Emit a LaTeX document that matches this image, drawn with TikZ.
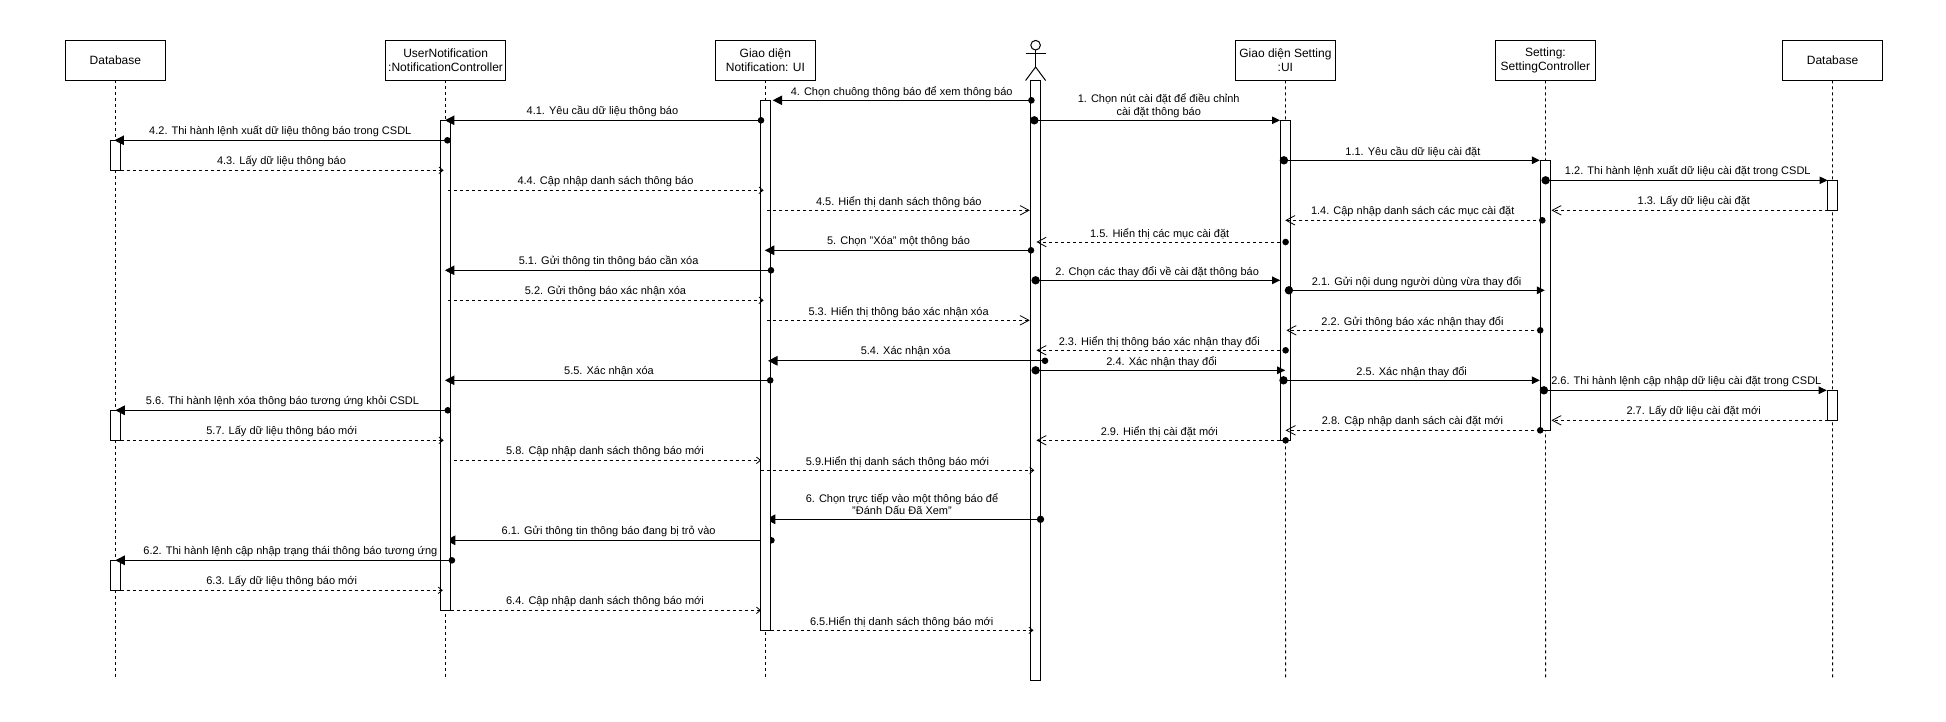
\documentclass[tikz,border=0pt]{standalone}
\usepackage{fontspec}
\setmainfont{Liberation Sans}
\usetikzlibrary{arrows.meta}
\tikzset{
  headbox/.style={draw=black,line width=1pt,fill=white,minimum width=100pt,minimum height=40pt,inner sep=0pt,outer sep=0pt,align=center,font=\fontsize{12}{14}\selectfont},
  actbox/.style={draw=black,line width=1pt,fill=white,minimum width=10pt,inner sep=0pt,outer sep=0pt},
  lifeline/.style={draw=black,line width=0.8pt,dash pattern=on 3pt off 3pt},
  lbl/.style={inner sep=0pt,outer sep=0pt,align=center,yshift=-0.7pt,font=\fontsize{11}{12.8}\selectfont},
  syncbig/.style={draw=black,line width=1.1pt,-{Triangle[length=9.5pt,width=9.5pt]}},
  syncsmall/.style={draw=black,line width=1.1pt,-{Triangle[length=8pt,width=7.5pt]}},
  retbig/.style={draw=black,line width=0.9pt,dash pattern=on 3pt off 3pt,-{Straight Barb[length=9pt,width=9.5pt,line width=0.8pt]}},
  retsmall/.style={draw=black,line width=0.9pt,dash pattern=on 3pt off 3pt,-{Straight Barb[length=4pt,width=6.5pt,line width=0.8pt]}},
}
% #1 id, #2 style, #3 x start, #4 x end, #5 y, #6 dot radius (0 = none), #7 label x, #8 label y, #9 text
\newcommand\msgline[9]{%
  \coordinate (#1s) at (#3,#5);
  \coordinate (#1e) at (#4,#5);
  \draw[#2] (#1s) -- (#1e);
  \ifdim #6pt>0pt \fill[black] (#1s) circle[radius=#6pt];\fi
  \node[lbl] (#1l) at (#7,#8) {#9};
}
\begin{document}
\begin{tikzpicture}[x=1pt,y=-1pt]
\useasboundingbox (0,0) rectangle (1946,721);
% heads
\node[headbox] (db1) at (115.4,60.3) {Database};
\node[headbox,minimum width=120pt] (un) at (445.6,60.3) {UserNotification\\:NotificationController};
\node[headbox] (gd) at (765.4,60.3) {Giao diện\\Notification: UI};
\node[headbox] (gs) at (1285.4,60.3) {Giao diện Setting\\:UI};
\node[headbox] (sc) at (1545.4,60.3) {Setting:\\SettingController};
\node[headbox] (db2) at (1832.5,60.3) {Database};
% lifeline ends
\coordinate (db1end) at (115.4,677.7);
\coordinate (unend) at (445.6,677.7);
\coordinate (gdend) at (765.4,677.7);
\coordinate (gsend) at (1285.6,677.7);
\coordinate (scend) at (1545.6,677.7);
\coordinate (db2end) at (1832.6,677.7);
\draw[lifeline] (db1.south) -- (db1end);
\draw[lifeline] (un.south) -- (unend);
\draw[lifeline] (gd.south) -- (gdend);
\draw[lifeline] (gs.south) -- (gsend);
\draw[lifeline] (sc.south) -- (scend);
\draw[lifeline] (db2.south) -- (db2end);
% actor
\node[draw=black,line width=1pt,circle,minimum size=9.6pt,inner sep=0pt,outer sep=0pt] (head) at (1035.6,45.2) {};
\coordinate (hip) at (1035.6,67);
\coordinate (armL) at (1025.6,53.7);
\coordinate (armR) at (1045.6,53.7);
\coordinate (legL) at (1025.6,80.5);
\coordinate (legR) at (1045.6,80.5);
\draw[black,line width=1pt] (head.south) -- (hip);
\draw[black,line width=1pt] (armL) -- (armR);
\draw[black,line width=1pt] (legL) -- (hip) -- (legR);
\node[actbox,minimum height=599.3pt] (aA) at (1035.6,380.6) {};
% messages partly hidden behind activations
\msgline{m6}{syncbig}{1040.5}{765.8}{519.3}{0}{902}{503.5}{6. Chọn trực tiếp vào một thông báo để\\"Đánh Dấu Đã Xem"}
\msgline{m61}{syncbig}{771.5}{445.8}{540.3}{3.2}{608.6}{531}{6.1. Gửi thông tin thông báo đang bị trỏ vào}
% activations
\node[actbox,minimum height=490pt] (aUN) at (445.6,365.3) {};
\node[actbox,minimum height=530pt] (aGD) at (765.4,365.3) {};
\node[actbox,minimum height=320pt] (aGS) at (1285.6,280.3) {};
\node[actbox,minimum height=270pt] (aSC) at (1545.6,295.3) {};
\node[actbox,minimum height=30pt] (aD1) at (115.4,155.3) {};
\node[actbox,minimum height=30pt] (aD2) at (115.4,425.3) {};
\node[actbox,minimum height=30pt] (aD3) at (115.4,575.3) {};
\node[actbox,minimum height=30pt] (aE1) at (1832.6,195.3) {};
\node[actbox,minimum height=30pt] (aE2) at (1832.6,405.3) {};
\fill[black] (m6s) circle[radius=3.7pt];
% left half
\msgline{m4}{syncbig}{1031.4}{772.7}{100.3}{3.3}{901.7}{91}{4. Chọn chuông thông báo để xem thông báo}
\msgline{m41}{syncbig}{761}{444.9}{120.3}{3.3}{602.4}{111}{4.1. Yêu cầu dữ liệu thông báo}
\msgline{m42}{syncbig}{447.4}{114.4}{140.3}{3.3}{280.3}{131}{4.2. Thi hành lệnh xuất dữ liệu thông báo trong CSDL}
\msgline{m43}{retsmall}{120.6}{443.6}{170.3}{0}{281.5}{161}{4.3. Lấy dữ liệu thông báo}
\msgline{m44}{retsmall}{447.8}{763.6}{190.3}{0}{605.5}{181}{4.4. Cập nhập danh sách thông báo}
\msgline{m45}{retbig}{766.9}{1029.8}{210.3}{0}{898.8}{201}{4.5. Hiển thị danh sách thông báo}
\msgline{m5}{syncbig}{1031}{764.8}{250.3}{3.3}{898.5}{241}{5. Chọn "Xóa" một thông báo}
\msgline{m51}{syncbig}{771}{444.9}{270.3}{3.3}{608.6}{261}{5.1. Gửi thông tin thông báo cần xóa}
\msgline{m52}{retsmall}{447.8}{763.6}{300.3}{0}{605.5}{291}{5.2. Gửi thông báo xác nhận xóa}
\msgline{m53}{retbig}{766.9}{1029.8}{320.3}{0}{898.6}{311}{5.3. Hiển thị thông báo xác nhận xóa}
\msgline{m54}{syncbig}{1045}{768}{360.8}{3.3}{905.6}{351}{5.4. Xác nhận xóa}
\msgline{m55}{syncbig}{770.2}{444.9}{380.3}{3.3}{609}{371}{5.5. Xác nhận xóa}
\msgline{m56}{syncbig}{447.8}{115.3}{410.3}{3.3}{282.5}{401}{5.6. Thi hành lệnh xóa thông báo tương ứng khỏi CSDL}
\msgline{m57}{retsmall}{120.6}{443.6}{440.3}{0}{281.7}{431}{5.7. Lấy dữ liệu thông báo mới}
\msgline{m58}{retsmall}{453.6}{761.1}{460.3}{0}{605}{451}{5.8. Cập nhập danh sách thông báo mới}
\msgline{m59}{retsmall}{761.1}{1034.3}{470.3}{0}{897.5}{461}{5.9.Hiển thị danh sách thông báo mới}
\msgline{m62}{syncbig}{451.9}{115.3}{560.3}{3.3}{290.4}{551}{6.2. Thi hành lệnh cập nhập trạng thái thông báo tương ứng}
\msgline{m63}{retsmall}{120.6}{442.8}{590.3}{0}{281.7}{581}{6.3. Lấy dữ liệu thông báo mới}
\msgline{m64}{retsmall}{450.7}{761}{610.3}{0}{605}{601}{6.4. Cập nhập danh sách thông báo mới}
\msgline{m65}{retsmall}{770.6}{1033.5}{630.3}{0}{901.7}{621}{6.5.Hiển thị danh sách thông báo mới}
% right half
\msgline{n1}{syncsmall}{1034.3}{1280}{120.3}{4.2}{1158.7}{104.7}{1. Chọn nút cài đặt để điều chỉnh\\cài đặt thông báo}
\msgline{n11}{syncsmall}{1283.9}{1539.8}{160.3}{4.2}{1412.9}{151}{1.1. Yêu cầu dữ liệu cài đặt}
\msgline{n12}{syncsmall}{1545.6}{1827.5}{180.3}{4.2}{1687.8}{171}{1.2. Thi hành lệnh xuất dữ liệu cài đặt trong CSDL}
\msgline{n13}{retbig}{1827.5}{1551.4}{210.3}{0}{1693.8}{201}{1.3. Lấy dữ liệu cài đặt}
\msgline{n14}{retbig}{1542.3}{1285.2}{220.3}{3.3}{1412.7}{211}{1.4. Cập nhập danh sách các mục cài đặt}
\msgline{n15}{retbig}{1285.6}{1036.4}{242}{3.3}{1159.7}{233}{1.5. Hiển thị các mục cài đặt}
\msgline{n2}{syncsmall}{1035.6}{1280.2}{280.3}{4.2}{1157.2}{271}{2. Chọn các thay đổi về cài đặt thông báo}
\msgline{n21}{syncsmall}{1288.9}{1544.8}{290.3}{4.2}{1416.6}{281}{2.1. Gửi nội dung người dùng vừa thay đổi}
\msgline{n22}{retbig}{1540.2}{1286.4}{330.3}{3.3}{1412.5}{321}{2.2. Gửi thông báo xác nhận thay đổi}
\msgline{n23}{retbig}{1285.6}{1036.4}{350.3}{3.3}{1159.3}{341}{2.3. Hiển thị thông báo xác nhận thay đổi}
\msgline{n24}{syncsmall}{1035.6}{1285.2}{370.3}{4.2}{1161.6}{361}{2.4. Xác nhận thay đổi}
\msgline{n25}{syncsmall}{1283.5}{1539.8}{380.3}{4.2}{1411.7}{371}{2.5. Xác nhận thay đổi}
\msgline{n26}{syncsmall}{1543.9}{1826.7}{390.3}{4.2}{1686.3}{381}{2.6. Thi hành lệnh cập nhập dữ liệu cài đặt trong CSDL}
\msgline{n27}{retbig}{1827.5}{1551.4}{420.3}{0}{1693.6}{411}{2.7. Lấy dữ liệu cài đặt mới}
\msgline{n28}{retbig}{1540.2}{1285.6}{430.3}{3.3}{1412.5}{421}{2.8. Cập nhập danh sách cài đặt mới}
\msgline{n29}{retbig}{1285.6}{1036.4}{440.3}{3.3}{1159.3}{431}{2.9. Hiển thị cài đặt mới}
\end{tikzpicture}
\end{document}
